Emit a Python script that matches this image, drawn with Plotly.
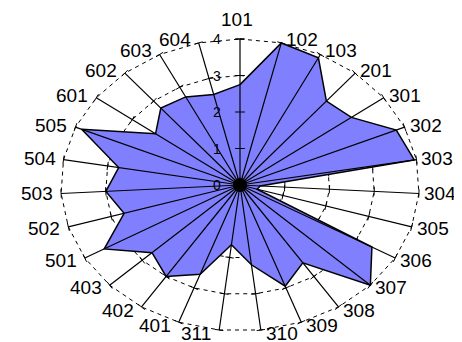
import numpy as np
import plotly.graph_objects as go

categories = ["101", "102", "103", "201", "301", "302", "303", "304", "305",
              "306", "307", "308", "309", "310", "311", "401", "402", "403",
              "501", "502", "503", "504", "505", "601", "602", "603", "604"]
values = [2.75, 4.0, 3.9, 3.0, 3.1, 3.8, 3.95, 0.45, 0.4,
          3.4, 4.0, 2.55, 2.95, 2.2, 1.65, 2.6, 3.0, 2.7,
          3.5, 2.7, 3.0, 2.75, 3.85, 2.35, 2.75, 2.7, 2.55]
tick_values = [0, 1, 2, 3, 4]
tick_labels = ["0", "1", "2", "3", "4"]

# page body has an 8px margin, so the figure starts at (8, 8)
W, H = 454, 334
CX, CY = 232, 177          # pixel centre of the radar inside the figure
PX_X, PX_Y = 44.8, 36.5    # pixels per unit (Excel stretched radar)
RMAX = 4

n = len(categories)
theta = np.arange(n) * 2 * np.pi / n
s, c = np.sin(theta), np.cos(theta)

fig = go.Figure()

# ---- base layer (drawn below the polygon): dashed gridlines + spoke ticks
for k in tick_values[1:]:
    gx = list(k * s) + [k * s[0]]
    gy = list(k * c) + [k * c[0]]
    fig.add_trace(go.Scatter(x=gx, y=gy, mode="lines", xaxis="x", yaxis="y",
                             line=dict(color="black", width=1, dash="4px,4px"),
                             hoverinfo="skip", showlegend=False))

phi = np.degrees(np.arctan2(PX_X * s, PX_Y * c))
tx, ty, ta = [], [], []
for i in range(n):
    for k in tick_values[1:]:
        tx.append(k * s[i]); ty.append(k * c[i]); ta.append(phi[i])
fig.add_trace(go.Scatter(x=tx, y=ty, mode="markers", xaxis="x", yaxis="y",
                         marker=dict(symbol="line-ew", size=6, angle=ta,
                                     line=dict(color="black", width=1)),
                         hoverinfo="skip", showlegend=False))

# ---- top layer: filled polygon, spokes, centre
v = np.array(values)
fig.add_trace(go.Scatter(x=list(v * s) + [v[0] * s[0]], y=list(v * c) + [v[0] * c[0]],
                         mode="lines", fill="toself", fillcolor="#8080FF",
                         xaxis="x2", yaxis="y2",
                         line=dict(color="black", width=1.5),
                         hoverinfo="skip", showlegend=False))

sx, sy = [], []
for i in range(n):
    sx += [0, RMAX * s[i], None]
    sy += [0, RMAX * c[i], None]
fig.add_trace(go.Scatter(x=sx, y=sy, mode="lines", xaxis="x2", yaxis="y2",
                         line=dict(color="black", width=1.2),
                         hoverinfo="skip", showlegend=False))

# radial value axis ticks (on top)
fig.add_trace(go.Scatter(x=[0] * (len(tick_values) - 1), y=tick_values[1:], mode="markers",
                         xaxis="x2", yaxis="y2",
                         marker=dict(symbol="line-ew", size=7,
                                     line=dict(color="black", width=1)),
                         hoverinfo="skip", showlegend=False))

fig.add_trace(go.Scatter(x=[0], y=[0], mode="markers", xaxis="x2", yaxis="y2",
                         marker=dict(color="black", size=14, symbol="circle"),
                         hoverinfo="skip", showlegend=False))

annotations = []
for i, lab in enumerate(categories):
    if abs(s[i]) < 0.05:
        xa, xs, ys = "center", -3, 20
    elif s[i] > 0:
        xa, xs, ys = "left", 3, 4 * c[i]
    else:
        xa, xs, ys = "right", -6, 4 * c[i]
    annotations.append(dict(x=RMAX * s[i], y=RMAX * c[i], xref="x", yref="y",
                            text=lab, showarrow=False, xanchor=xa, yanchor="middle",
                            xshift=xs, yshift=ys,
                            font=dict(family="Liberation Sans, Arial", size=19, color="black")))
for tv, tl in zip(tick_values, tick_labels):
    annotations.append(dict(x=0, y=tv, xref="x", yref="y", text=tl, showarrow=False,
                            xanchor="right", yanchor="middle", xshift=-17, yshift=0,
                            font=dict(family="Liberation Sans, Arial", size=14, color="black")))

xr = [-CX / PX_X, (W - CX) / PX_X]
yr = [-(H - CY) / PX_Y, CY / PX_Y]
fig.update_layout(
    width=W, height=H, autosize=False,
    margin=dict(l=0, r=0, t=0, b=0),
    paper_bgcolor="white", plot_bgcolor="white",
    xaxis=dict(range=xr, visible=False, fixedrange=True),
    yaxis=dict(range=yr, visible=False, fixedrange=True),
    xaxis2=dict(range=xr, visible=False, fixedrange=True, overlaying="x"),
    yaxis2=dict(range=yr, visible=False, fixedrange=True, overlaying="y"),
    annotations=annotations,
    showlegend=False,
)

fig.write_html("out.html")
